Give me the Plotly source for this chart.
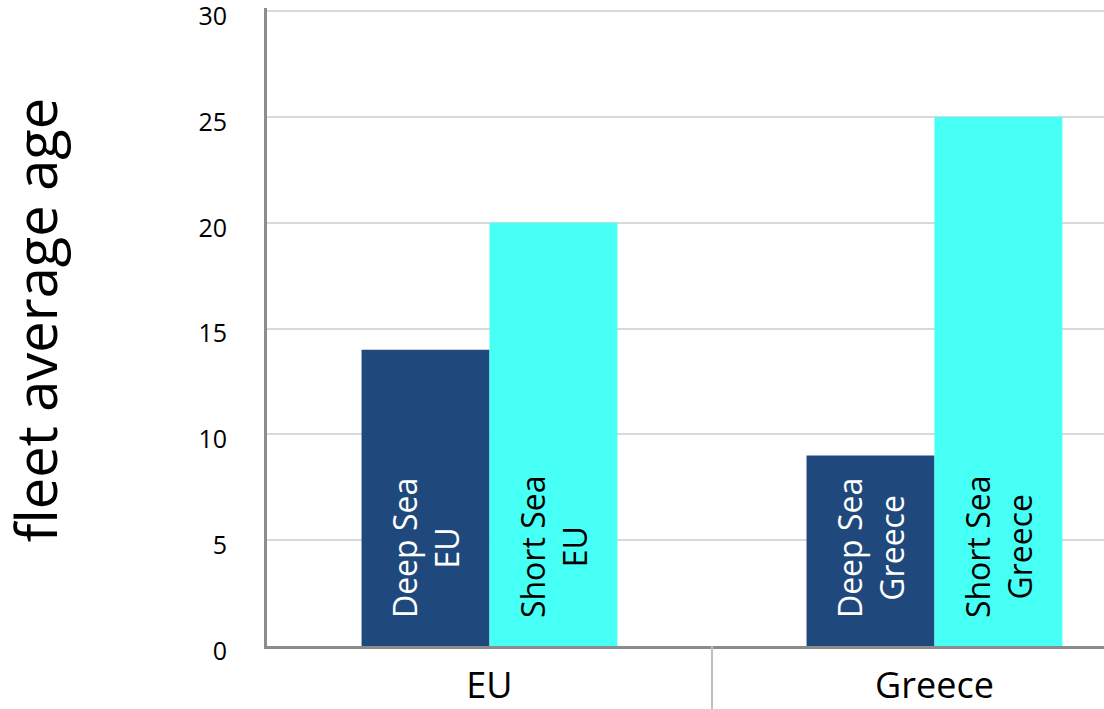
import plotly.graph_objects as go

categories = ["EU", "Greece"]
deep_sea = [14, 9]
short_sea = [20, 25]
deep_labels = ["Deep Sea<br>EU", "Deep Sea<br>Greece"]
short_labels = ["Short Sea<br>EU", "Short Sea<br>Greece"]
y_ticks = [0, 5, 10, 15, 20, 25, 30]
y_title = "fleet average age"

FONT = "Open Sans"
PAD = "\u00a0\u00a0\u00a0"


def padded(labels):
    return ["<br>".join(PAD + part for part in t.split("<br>")) for t in labels]


fig = go.Figure()
fig.add_trace(go.Bar(
    x=categories, y=deep_sea, name="Deep Sea",
    marker=dict(color="#1F497D", line=dict(width=0)),
    text=padded(deep_labels), textposition="inside", insidetextanchor="start",
    textangle=-90, constraintext="none",
    insidetextfont=dict(family=FONT, size=32, color="white"),
    hoverinfo="skip",
))
fig.add_trace(go.Bar(
    x=categories, y=short_sea, name="Short Sea",
    marker=dict(color="#46FFF5", line=dict(width=0)),
    text=padded(short_labels), textposition="inside", insidetextanchor="start",
    textangle=-90, constraintext="none",
    insidetextfont=dict(family=FONT, size=32, color="black"),
    hoverinfo="skip",
))

# category divider below the axis
fig.add_shape(type="line", xref="x", yref="paper", x0=0.5, x1=0.5, y0=0, y1=-0.1,
              line=dict(color="#BFBFBF", width=2))

# y-axis title
fig.add_annotation(text=y_title, xref="paper", yref="paper", x=-0.277, y=0.511,
                   xanchor="center", yanchor="middle", textangle=-90, showarrow=False,
                   font=dict(family=FONT, size=56, color="black"))

fig.update_layout(
    width=1104, height=709,
    margin=dict(l=267, r=0, t=8, b=63),
    paper_bgcolor="white", plot_bgcolor="white",
    barmode="group", bargap=0.425, bargroupgap=0,
    showlegend=False,
    font=dict(family=FONT, color="black"),
)
fig.update_xaxes(
    range=[-0.5, 1.381], showgrid=False,
    showline=True, linecolor="#8C8C8C", linewidth=3,
    ticks="", tickfont=dict(family=FONT, size=36, color="black"),
    ticklabelstandoff=6,
)
fig.update_yaxes(
    range=[0, 30.15], tickvals=y_ticks, ticktext=[str(v) for v in y_ticks],
    showgrid=True, gridcolor="#D9D9D9", gridwidth=2,
    showline=True, linecolor="#8C8C8C", linewidth=3,
    zeroline=False, ticks="",
    tickfont=dict(family=FONT, size=25, color="black"),
    ticklabelstandoff=32, ticklabelshift=5, ticklabeloverflow="allow",
    automargin=False,
)

fig.write_html(
    "out.html",
    config={"displayModeBar": False},
    post_script="document.body.style.margin='0';document.body.style.overflow='hidden';",
)
